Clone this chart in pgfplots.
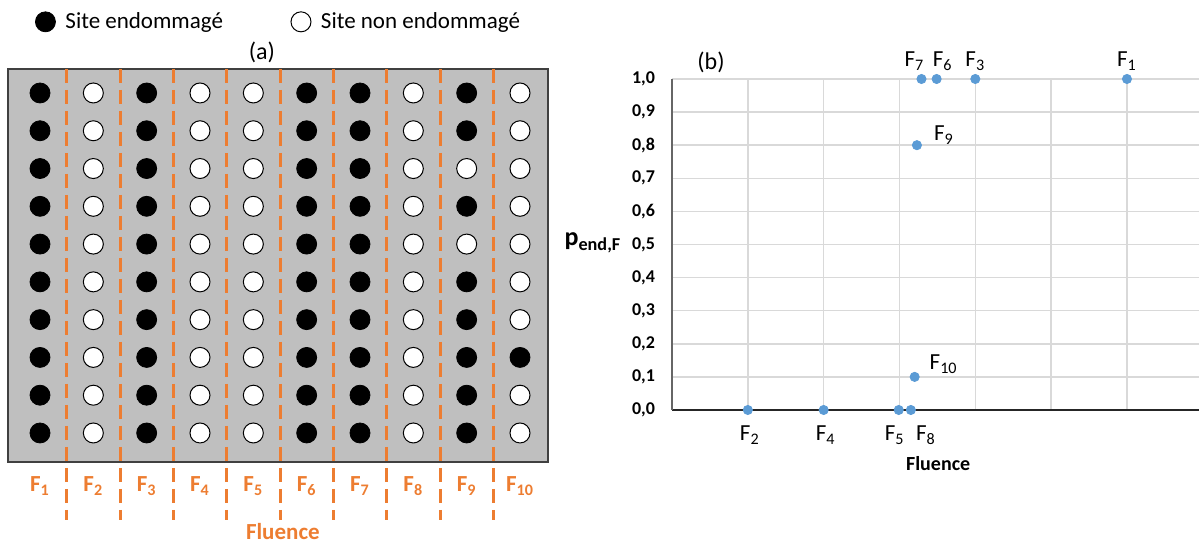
\documentclass[border=0pt]{standalone}
\usepackage{pgfplots}
\pgfplotsset{compat=1.18}
\usepackage{fontspec}
\setmainfont{Carlito}
\definecolor{forange}{HTML}{ED7D31}
\definecolor{fblue}{HTML}{5B9BD5}
\definecolor{sitegray}{HTML}{BFBFBF}
\definecolor{gridgray}{HTML}{D9D9D9}

\begin{document}
\begin{tikzpicture}
\useasboundingbox (0,0) rectangle (599.5pt,272pt);

% (a) sites grid
\begin{axis}[
    at={(4pt,41pt)}, anchor=south west,
    scale only axis, width=270pt, height=196.5pt,
    xmin=0.4, xmax=10.525, ymin=0.232, ymax=10.635,
    clip=false,
    axis background/.style={fill=sitegray},
    axis line style={draw=black!75, line width=0.6pt},
    xtick={1,...,10},
    xticklabels={F\textsubscript{1},F\textsubscript{2},F\textsubscript{3},F\textsubscript{4},F\textsubscript{5},
                 F\textsubscript{6},F\textsubscript{7},F\textsubscript{8},F\textsubscript{9},F\textsubscript{10}},
    ytick=\empty,
    major tick length=0pt,
    xticklabel style={text=forange, font=\fontsize{11.5}{13}\selectfont\bfseries, yshift=-4pt},
    xlabel={Fluence},
    xlabel style={text=forange, font=\fontsize{11.5}{13}\selectfont\bfseries,
                  at={(axis description cs:0.509,0)}, anchor=center, yshift=-35pt},
    title={(a)},
    title style={font=\fontsize{12}{14}\selectfont, at={(axis description cs:0.47,1)}, anchor=center, yshift=2.5pt},
    legend style={draw=none, fill=none, font=\fontsize{11.5}{13}\selectfont,
                  at={(axis description cs:0.039,1.12)}, anchor=west, legend columns=2,
                  /tikz/every even column/.append style={column sep=29pt},
                  nodes={inner xsep=5pt}},
]
\addplot[only marks, mark=*, mark size=5pt, mark options={fill=black, draw=black}] coordinates {
    (1,1)(1,2)(1,3)(1,4)(1,5)(1,6)(1,7)(1,8)(1,9)(1,10)
    (3,1)(3,2)(3,3)(3,4)(3,5)(3,6)(3,7)(3,8)(3,9)(3,10)
    (6,1)(6,2)(6,3)(6,4)(6,5)(6,6)(6,7)(6,8)(6,9)(6,10)
    (7,1)(7,2)(7,3)(7,4)(7,5)(7,6)(7,7)(7,8)(7,9)(7,10)
    (9,1)(9,2)(9,3)(9,4)(9,5)(9,7)(9,9)(9,10)
    (10,3)
};
\addlegendentry{Site endommagé}
\addplot[only marks, mark=*, mark size=5pt, mark options={fill=white, draw=black, line width=0.5pt}] coordinates {
    (2,1)(2,2)(2,3)(2,4)(2,5)(2,6)(2,7)(2,8)(2,9)(2,10)
    (4,1)(4,2)(4,3)(4,4)(4,5)(4,6)(4,7)(4,8)(4,9)(4,10)
    (5,1)(5,2)(5,3)(5,4)(5,5)(5,6)(5,7)(5,8)(5,9)(5,10)
    (8,1)(8,2)(8,3)(8,4)(8,5)(8,6)(8,7)(8,8)(8,9)(8,10)
    (9,6)(9,8)
    (10,1)(10,2)(10,4)(10,5)(10,6)(10,7)(10,8)(10,9)(10,10)
};
\addlegendentry{Site non endommagé}
% fluence separators
\pgfplotsinvokeforeach{1.5,2.5,3.5,4.5,5.5,6.5,7.5,8.5,9.5}{
    \addplot[forget plot, forange, line width=1.5pt, dash pattern=on 7pt off 3.5pt]
        coordinates {(#1,10.635) (#1,-1.3)};
}
\end{axis}

% (b) damage probability
\begin{axis}[
    at={(336pt,67pt)}, anchor=south west,
    scale only axis, width=263.5pt, height=165.5pt,
    xmin=0, xmax=6.95, ymin=0, ymax=1,
    clip=false,
    axis x line=bottom, axis y line=left,
    x axis line style={-, draw=black!85, line width=1pt},
    y axis line style={-, draw=black!60, line width=1pt},
    xtick={1,2,3,4,5,6}, xticklabels={},
    ytick={0,0.1,0.2,0.3,0.4,0.5,0.6,0.7,0.8,0.9,1},
    grid=major, major grid style={gridgray, line width=0.75pt},
    major tick length=0pt,
    yticklabel style={font=\fontsize{9}{11}\selectfont\bfseries, xshift=-5pt},
    /pgf/number format/use comma,
    /pgf/number format/fixed,
    /pgf/number format/fixed zerofill,
    /pgf/number format/precision=1,
    /pgf/number format/assume math mode=true,
    xlabel={Fluence},
    xlabel style={font=\fontsize{10}{12}\selectfont\bfseries,
                  at={(axis description cs:0.505,0)}, anchor=center, yshift=-27pt},
    ylabel={p\textsubscript{end,F}},
    ylabel style={rotate=-90, font=\fontsize{13}{15}\selectfont\bfseries,
                  at={(axis description cs:-0.15,0.505)}, anchor=center},
    title={(b)},
    title style={font=\fontsize{12}{14}\selectfont, at={(axis description cs:0.074,1)}, anchor=center, yshift=2.5pt},
]
\addplot[only marks, mark=*, mark size=2.3pt, fblue] coordinates {
    (6.00,1.0) (1.00,0.0) (4.00,1.0) (2.00,0.0) (2.99,0.0)
    (3.49,1.0) (3.29,1.0) (3.15,0.0) (3.23,0.8) (3.20,0.1)
};
\begin{scope}[every node/.style={font=\fontsize{11.5}{13}\selectfont, anchor=center}]
\node[xshift=-3.5pt, yshift=9pt] at (axis cs:3.29,1.0) {F\textsubscript{7}};
\node[xshift=3pt,   yshift=9pt] at (axis cs:3.49,1.0) {F\textsubscript{6}};
\node[xshift=0pt,   yshift=9pt] at (axis cs:4.00,1.0) {F\textsubscript{3}};
\node[xshift=0pt,   yshift=9pt] at (axis cs:6.00,1.0) {F\textsubscript{1}};
\node[xshift=13.5pt,yshift=5pt] at (axis cs:3.23,0.8) {F\textsubscript{9}};
\node[xshift=14.5pt,yshift=6.5pt] at (axis cs:3.20,0.1) {F\textsubscript{10}};
\node[xshift=1pt,   yshift=-12.5pt] at (axis cs:1.00,0.0) {F\textsubscript{2}};
\node[xshift=1pt,   yshift=-12.5pt] at (axis cs:2.00,0.0) {F\textsubscript{4}};
\node[xshift=-2pt,  yshift=-12.5pt] at (axis cs:2.99,0.0) {F\textsubscript{5}};
\node[xshift=7.5pt, yshift=-12.5pt] at (axis cs:3.15,0.0) {F\textsubscript{8}};
\end{scope}
\end{axis}
\end{tikzpicture}
\end{document}
